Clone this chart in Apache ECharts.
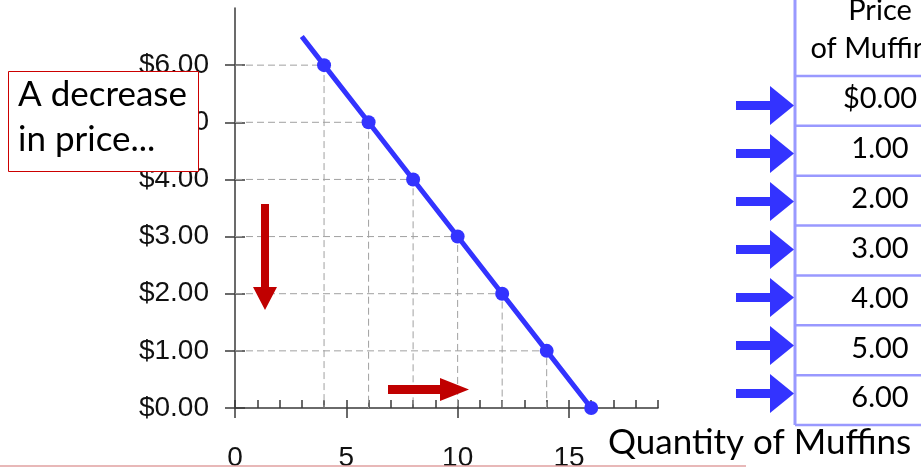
<!DOCTYPE html>
<html>
<head>
<meta charset="utf-8">
<script src="https://cdn.jsdelivr.net/npm/echarts@6/dist/echarts.min.js"></script>
<style>
html,body{margin:0;padding:0;background:#fff;}
#c{width:921px;height:468px;}
</style>
</head>
<body>
<div id="c"></div>
<script>
// ---- data ----
var quantities = [3, 4, 6, 8, 10, 12, 14, 16];
var prices = [6.5, 6, 5, 4, 3, 2, 1, 0];
var pointShown = [false, true, true, true, true, true, true, true];
var xTickLabels = [0, 5, 10, 15];
var yTickValues = [0, 1, 2, 3, 4, 5, 6];
var tablePrices = [0, 1, 2, 3, 4, 5, 6];
var tableHeader = ['Price', 'of Muffins'];
var boxText = ['A decrease', 'in price...'];
var xAxisTitle = 'Quantity of Muffins';

var chart = echarts.init(document.getElementById('c'), null, {renderer: 'canvas'});

var axisColor = '#3a3a3a';
var labelFont = 'Liberation Sans';
var texFont = 'Lato';

var mainData = quantities.map(function (q, i) {
  return {value: [q, prices[i]], symbolSize: pointShown[i] ? 14 : 0};
});

var series = [];
quantities.forEach(function (q, i) {
  if (!pointShown[i] || prices[i] === 0) return;
  series.push({
    type: 'line', silent: true, symbol: 'none', z: 1,
    data: [[0, prices[i]], [q, prices[i]], [q, 0]],
    lineStyle: {color: '#a0a0a0', width: 1, type: [7, 4]}
  });
});
series.push({
  type: 'line', data: mainData, symbol: 'circle', z: 5,
  lineStyle: {color: '#3333ff', width: 5},
  itemStyle: {color: '#3333ff'},
  silent: true
});

// ---- graphic (annotations, table) ----
var g = [];
var red = '#c00000';
var blue = '#3333ff';
// red down arrow
g.push({type: 'polygon', z: 50, shape: {points: [[261, 204], [269, 204], [269, 287], [277, 287], [265, 310], [253, 287], [261, 287]]}, style: {fill: red}});
// red right arrow
g.push({type: 'polygon', z: 50, shape: {points: [[388, 385], [440, 385], [440, 378], [469, 389.5], [440, 401], [440, 394], [388, 394]]}, style: {fill: red}});
// text box
g.push({type: 'rect', z: 60, shape: {x: 8.5, y: 71.5, width: 190, height: 100}, style: {fill: '#fff', stroke: '#cc0000', lineWidth: 1}});
boxText.forEach(function (t, i) {
  g.push({type: 'text', z: 61, x: 18, y: 95 + i * 45, style: {text: t, font: '35px ' + texFont, fill: '#000', verticalAlign: 'middle', align: 'left'}});
});
// axis title
g.push({type: 'text', z: 61, x: 608, y: 443, style: {text: xAxisTitle, font: '35px ' + texFont, fill: '#000', verticalAlign: 'middle', align: 'left'}});
// table
var tLeft = 795, tRight = 1000;
var rowTop = 76, rowH = 349 / 7;
g.push({type: 'line', z: 40, shape: {x1: tLeft, y1: 0, x2: tLeft, y2: rowTop + 7 * rowH}, style: {stroke: '#9999ff', lineWidth: 3}});
for (var r = 0; r <= 7; r++) {
  var yy = rowTop + r * rowH;
  g.push({type: 'line', z: 40, shape: {x1: tLeft, y1: yy, x2: tRight, y2: yy}, style: {stroke: '#9999ff', lineWidth: 2.5}});
}
g.push({type: 'text', z: 41, x: 880, y: 11, style: {text: tableHeader[0], font: '29px ' + texFont, fill: '#000', align: 'center', verticalAlign: 'middle'}});
g.push({type: 'text', z: 41, x: 876, y: 49, style: {text: tableHeader[1], font: '29px ' + texFont, fill: '#000', align: 'center', verticalAlign: 'middle'}});
tablePrices.forEach(function (p, i) {
  var label = (i === 0 ? '$' : '') + p.toFixed(2);
  g.push({type: 'text', z: 41, x: 880, y: rowTop + (i + 0.5) * rowH - 2, style: {text: label, font: '29px ' + texFont, fill: '#000', align: 'center', verticalAlign: 'middle'}});
  var c = 105.5 + 48 * i;
  g.push({type: 'polygon', z: 42, shape: {points: [[736, c - 4.5], [770, c - 4.5], [770, c - 19.5], [794, c], [770, c + 19.5], [770, c + 4.5], [736, c + 4.5]]}, style: {fill: blue}});
});
// bottom pink line
g.push({type: 'line', z: 30, shape: {x1: 0, y1: 466, x2: 746, y2: 466}, style: {stroke: '#e0a0a0', lineWidth: 1.5}});

var option = {
  animation: false,
  backgroundColor: '#fff',
  grid: {left: 235, right: 263, top: 8, bottom: 60, containLabel: false, outerBoundsMode: 'none'},
  xAxis: [
    {type: 'value', min: 0, max: 19, interval: 1, position: 'bottom',
      axisLine: {show: true, onZero: false, lineStyle: {color: axisColor, width: 1.5}},
      axisTick: {show: true, inside: true, length: 8, lineStyle: {color: axisColor, width: 1.5}},
      axisLabel: {show: false}, splitLine: {show: false}},
    {type: 'value', min: 0, max: 19, interval: 5, position: 'bottom', offset: 0,
      axisLine: {show: false, onZero: false},
      axisTick: {show: true, length: 10, customValues: xTickLabels, lineStyle: {color: axisColor, width: 1.5}},
      axisLabel: {show: true, customValues: xTickLabels, margin: 36, fontFamily: labelFont, fontSize: 28, color: '#111'},
      splitLine: {show: false}}
  ],
  yAxis: [
    {type: 'value', min: 0, max: 7, interval: 1, position: 'left',
      axisLine: {show: true, onZero: false, lineStyle: {color: axisColor, width: 1.5}},
      axisTick: {show: true, length: 10, customValues: yTickValues, lineStyle: {color: axisColor, width: 1.5}},
      axisLabel: {show: true, customValues: yTickValues, margin: 26, fontFamily: labelFont, fontSize: 28, color: '#111',
        formatter: function (v) { return '$' + v.toFixed(2); }},
      splitLine: {show: false}},
    {type: 'value', min: 0, max: 7, interval: 1, position: 'left', offset: 0,
      axisLine: {show: false, onZero: false},
      axisTick: {show: true, inside: true, length: 10, customValues: yTickValues, lineStyle: {color: axisColor, width: 1.5}},
      axisLabel: {show: false}, splitLine: {show: false}}
  ],
  series: series,
  graphic: g
};
chart.setOption(option);
</script>
</body>
</html>
